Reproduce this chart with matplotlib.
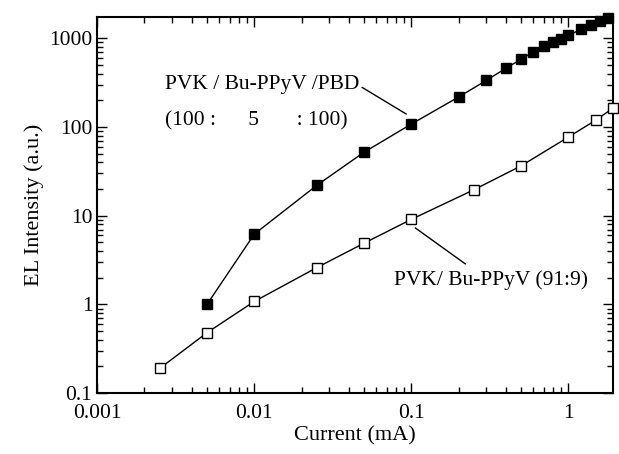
import numpy as np
import matplotlib.pyplot as plt
from matplotlib.ticker import LogLocator, FuncFormatter, NullFormatter

plt.rcParams['font.family'] = ['Liberation Serif', 'DejaVu Serif']

# PVK / Bu-PPyV / PBD (100:5:100), filled squares
cur_pbd = [0.005, 0.01, 0.025, 0.05, 0.1, 0.2, 0.3, 0.4, 0.5, 0.6, 0.7, 0.8, 0.9,
           1.0, 1.2, 1.4, 1.6, 1.8]
el_pbd = [1.0, 6.2, 22, 52, 108, 218, 335, 460, 580, 710, 810, 900, 975,
          1080, 1260, 1400, 1550, 1680]

# PVK / Bu-PPyV (91:9), open squares
cur_91 = [0.0025, 0.005, 0.01, 0.025, 0.05, 0.1, 0.25, 0.5, 1.0, 1.5, 1.92]
el_91 = [0.19, 0.48, 1.08, 2.6, 4.9, 9.1, 19.6, 36.5, 77, 120, 163]

fig = plt.figure(figsize=(6.19, 4.54), dpi=100)
ax = fig.add_axes([0.157, 0.134, 0.833, 0.829])

ax.plot(cur_pbd, el_pbd, '-', color='black', lw=1.0, marker='s', ms=6.5,
        mfc='black', mec='black', clip_on=False)
ax.plot(cur_91, el_91, '-', color='black', lw=1.0, marker='s', ms=6.5,
        mfc='white', mec='black', mew=1.0, clip_on=False, zorder=3)

ax.set_xscale('log')
ax.set_yscale('log')
ax.set_xlim(0.001, 1.92)
ax.set_ylim(0.1, 1750)

fmt = FuncFormatter(lambda v, p: '%g' % v)
ax.xaxis.set_major_locator(LogLocator(base=10))
ax.yaxis.set_major_locator(LogLocator(base=10))
ax.xaxis.set_major_formatter(fmt)
ax.yaxis.set_major_formatter(fmt)
ax.xaxis.set_minor_locator(LogLocator(base=10, subs=np.arange(2, 10)))
ax.yaxis.set_minor_locator(LogLocator(base=10, subs=np.arange(2, 10)))
ax.xaxis.set_minor_formatter(NullFormatter())
ax.yaxis.set_minor_formatter(NullFormatter())

ax.tick_params(which='both', direction='in', top=True, right=True, labelsize=15.5, width=1.0)
ax.tick_params(which='major', length=7)
ax.tick_params(which='minor', length=4)
ax.tick_params(axis='x', pad=8)
for s in ax.spines.values():
    s.set_linewidth(1.5)

ax.set_xlabel('Current (mA)', fontsize=16, labelpad=2)
ax.set_ylabel('EL Intensity (a.u.)', fontsize=16, labelpad=4)

# annotations with leader lines
ax.annotate('PVK / Bu-PPyV /PBD', xy=(0.093, 140), xytext=(0.0027, 300),
            fontsize=15.5, ha='left', va='center',
            arrowprops=dict(arrowstyle='-', color='black', lw=1.0,
                            shrinkA=0, shrinkB=0, relpos=(1.0, 0.45)))
ax.text(0.0027, 118, '(100 :      5       : 100)', fontsize=15.5, ha='left', va='center')

ax.annotate('PVK/ Bu-PPyV (91:9)', xy=(0.106, 7.3), xytext=(0.32, 1.9),
            fontsize=15.5, ha='center', va='center',
            arrowprops=dict(arrowstyle='-', color='black', lw=1.0,
                            shrinkA=0, shrinkB=0, relpos=(0.37, 1.3)))

fig.savefig('out.png', dpi=100)
